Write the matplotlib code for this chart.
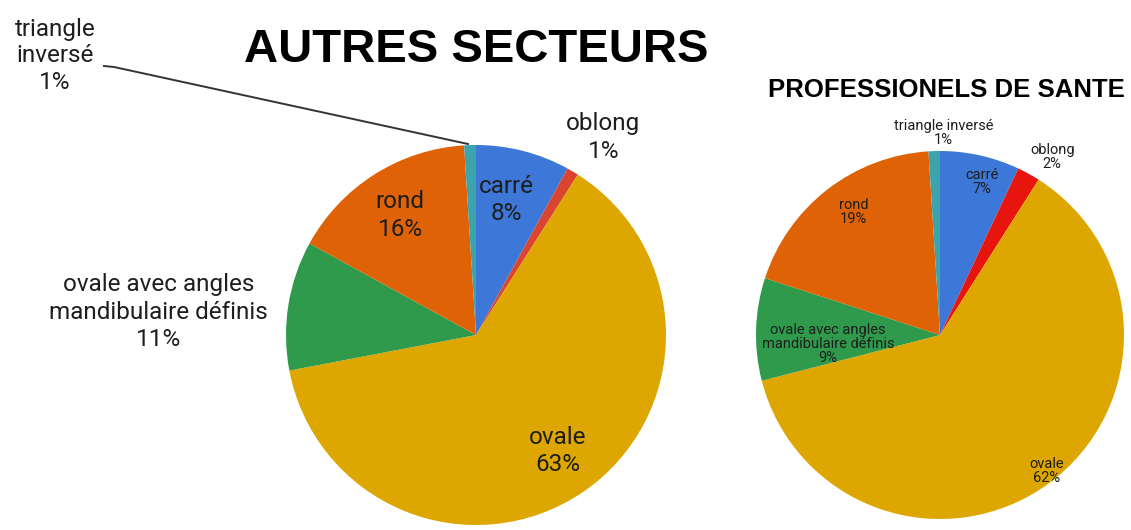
import matplotlib
matplotlib.use("Agg")
import matplotlib.pyplot as plt

plt.rcParams['font.family'] = ['Roboto', 'Liberation Sans', 'DejaVu Sans']

# data
categories = ["carré", "oblong", "ovale", "ovale avec angles\nmandibulaire définis", "rond", "triangle\ninversé"]
autres = [8, 1, 63, 11, 16, 1]
pros = [7, 2, 62, 9, 19, 1]
colors_left = ["#3d78d8", "#d9452f", "#dea600", "#2f9a4c", "#e06206", "#3ca4ad"]
colors_right = ["#3d78d8", "#e8150f", "#dea600", "#2f9a4c", "#e06206", "#3ca4ad"]

W, H = 1131, 530
fig = plt.figure(figsize=(W / 100, H / 100), dpi=100)
ax = fig.add_axes([0, 0, 1, 1])

# pie centres / radii in pixel units (y up)
cl, rl = (476, H - 335), 190
cr, rr = (940, H - 335), 184

ax.pie(autres, colors=colors_left, startangle=90, counterclock=False,
       center=cl, radius=rl, wedgeprops=dict(linewidth=0))
ax.pie(pros, colors=colors_right, startangle=90, counterclock=False,
       center=cr, radius=rr, wedgeprops=dict(linewidth=0))

ax.set_xlim(0, W)
ax.set_ylim(0, H)
ax.set_aspect('equal')
ax.axis('off')

txt = "#1e1e1e"

# label offsets from centre in radius units
off_left = [(0.16, 0.71), (0.67, 1.04), (0.43, -0.61), (-1.67, 0.12), (-0.40, 0.63), None]
for name, v, off in zip(categories, autres, off_left):
    if off is None:
        continue
    ax.text(cl[0] + off[0] * rl, cl[1] + off[1] * rl, f"{name}\n{v}%",
            ha='center', va='center', fontsize=17.5, color=txt, linespacing=1.25)

# triangle inversé label with leader line (left pie)
ax.text(55, H - 56, f"{categories[5]}\n{autres[5]}%", ha='center', va='center',
        fontsize=17.5, color=txt, linespacing=1.2)
ax.plot([104, 114, 468], [H - 66, H - 67, H - 144], color="#333333", lw=1.4)

off_right = [(0.23, 0.83), (0.61, 0.97), (0.58, -0.74), (-0.61, -0.05), (-0.47, 0.67), (0.02, 1.10)]
for name, v, off in zip(categories, pros, off_right):
    label = name.replace("triangle\ninversé", "triangle inversé")
    ax.text(cr[0] + off[0] * rr, cr[1] + off[1] * rr, f"{label}\n{v}%",
            ha='center', va='center', fontsize=10.5, color=txt, linespacing=1.0)

ax.text(476, H - 50, "AUTRES SECTEURS", ha='center', va='center',
        fontsize=34, fontweight='bold', color='black', family='Liberation Sans')
ax.text(946, H - 90, "PROFESSIONELS DE SANTE", ha='center', va='center',
        fontsize=18.5, fontweight='bold', color='black', family='Liberation Sans')

fig.savefig("out.png", dpi=100)
